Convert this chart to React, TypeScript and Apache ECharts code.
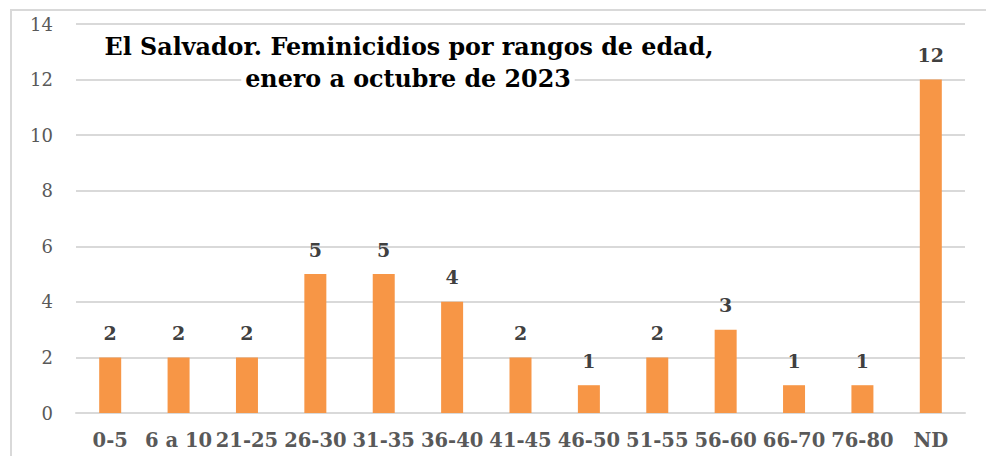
import React, { useEffect, useRef } from "react";
import * as echarts from "echarts";

const categories = ["0-5", "6 a 10", "21-25", "26-30", "31-35", "36-40", "41-45", "46-50", "51-55", "56-60", "66-70", "76-80", "ND"];
const values = [2, 2, 2, 5, 5, 4, 2, 1, 2, 3, 1, 1, 12];
const titleLines = ["El Salvador. Feminicidios por rangos de edad,", "enero a octubre de 2023"];

const FONT = "'DejaVu Serif', serif";

export default function App() {
  const ref = useRef<HTMLDivElement>(null);
  useEffect(() => {
    if (!ref.current) return;
    const chart = echarts.init(ref.current, null, { renderer: "svg" });
    chart.setOption({
      animation: false,
      backgroundColor: "#ffffff",
      grid: { left: 76, right: 21, top: 24, bottom: 43, containLabel: false },
      xAxis: {
        type: "category",
        data: categories,
        axisLine: { show: true, lineStyle: { color: "#d9d9d9", width: 2 } },
        axisTick: { show: false },
        axisLabel: {
          interval: 0,
          margin: 17,
          color: "#595959",
          fontFamily: FONT,
          fontWeight: "bold",
          fontSize: 19.5,
        },
      },
      yAxis: {
        type: "value",
        min: 0,
        max: 14,
        interval: 2,
        axisLine: { show: false },
        axisTick: { show: false },
        splitLine: { lineStyle: { color: "#d9d9d9", width: 2 } },
        axisLabel: { color: "#595959", fontFamily: FONT, fontSize: 18, margin: 23 },
      },
      series: [
        {
          type: "bar",
          data: values,
          barWidth: 22,
          itemStyle: { color: "#F79646" },
          label: {
            show: true,
            position: "top",
            distance: 15,
            color: "#404040",
            fontFamily: FONT,
            fontWeight: "bold",
            fontSize: 19,
          },
        },
      ],
      graphic: [
        {
          type: "rect",
          shape: { x: 11, y: 10, width: 1000, height: 500 },
          style: { fill: "none", stroke: "#d9d9d9", lineWidth: 2 },
          silent: true,
        },
        {
          type: "text",
          x: 409,
          y: 47,
          z: 100,
          style: {
            text: titleLines[0],
            fill: "#000000",
            font: `bold 23.8px ${FONT}`,
            textAlign: "center",
            textVerticalAlign: "middle",
          },
        },
        {
          type: "text",
          x: 408,
          y: 79,
          z: 100,
          style: {
            text: titleLines[1],
            fill: "#000000",
            font: `bold 23.8px ${FONT}`,
            textAlign: "center",
            textVerticalAlign: "middle",
            backgroundColor: "#ffffff",
            padding: [2, 4, 2, 4],
          },
        },
      ],
    });
    return () => chart.dispose();
  }, []);
  return (
    <div
      ref={ref}
      style={{ position: "fixed", left: 0, top: 0, width: 986, height: 456 }}
    />
  );
}
